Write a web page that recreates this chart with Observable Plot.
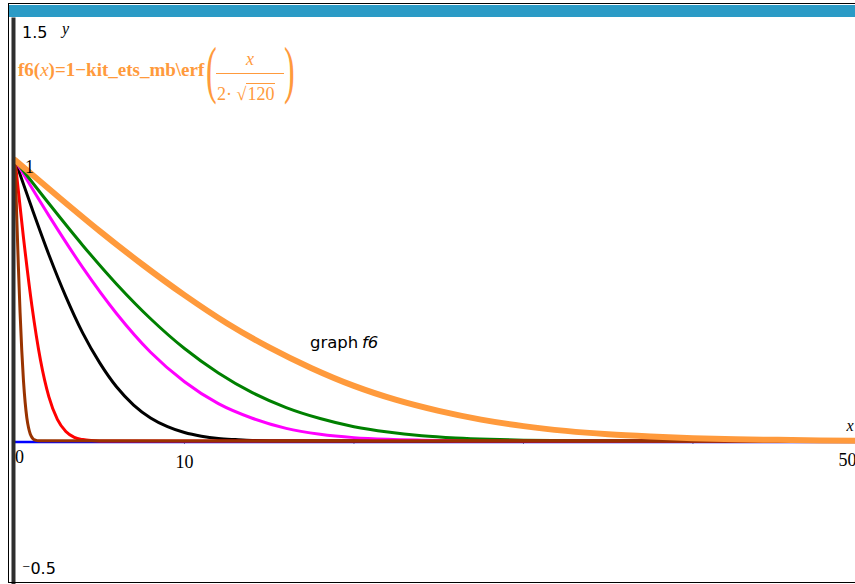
<!DOCTYPE html>
<html>
<head>
<meta charset="utf-8">
<script src="https://cdn.jsdelivr.net/npm/d3@7"></script>
<script src="https://cdn.jsdelivr.net/npm/@observablehq/plot@0.6"></script>
<style>
  html, body { margin: 0; padding: 0; background: #fff; }
  #wrap { position: relative; width: 855px; height: 584px; overflow: hidden; background: #fff; }
  #chart { position: absolute; left: 0; top: 0; }
  .frame-top { position: absolute; left: 8px; top: 3px; width: 847px; height: 1px; background: #000; }
  .frame-left { position: absolute; left: 8px; top: 3px; width: 1px; height: 580px; background: #000; }
  .frame-bottom { position: absolute; left: 8px; top: 582px; width: 847px; height: 1px; background: #000; }
  .bar { position: absolute; left: 9px; top: 5px; width: 846px; height: 12px; background: #2b9bc6; }
  #formula { position: absolute; left: 18px; top: 40px; color: #ff9a3c; font-family: "Liberation Serif", serif; white-space: nowrap; }
  #formula .main { position: absolute; left: 0; top: 19px; font-size: 19px; font-weight: bold; }
  #formula .main i { font-weight: normal; }
  #formula .paren { position: absolute; top: -2px; font-size: 64px; font-weight: normal; transform: scaleX(0.5); transform-origin: left top; line-height: 1; }
  #formula .num { position: absolute; left: 228px; top: 9px; font-size: 18px; font-style: italic; }
  #formula .fracline { position: absolute; left: 198px; top: 33px; width: 68px; height: 1px; background: #ff9a3c; }
  #formula .den { position: absolute; left: 199px; top: 44px; font-size: 18px; }
  #formula .den .rad { border-top: 1px solid #ff9a3c; padding: 0 1px; }
</style>
</head>
<body>
<div id="wrap">
  <div id="chart"></div>
  <div class="frame-top"></div>
  <div class="bar"></div>
  <div class="frame-left"></div>
  <div class="frame-bottom"></div>
  <div id="formula">
    <span class="main">f6(<i>x</i>)=1−kit_ets_mb\erf</span>
    <span class="paren" style="left:188px">(</span>
    <span class="num">x</span>
    <span class="fracline"></span>
    <span class="den">2· √<span class="rad">120</span></span>
    <span class="paren" style="left:266px">)</span>
  </div>
</div>
<script>
// ---- values ----
const xOrange = [0, 2.5, 5, 7.5, 10, 12.5, 15, 17.5, 20, 22.5, 25, 27.5, 30, 32.5, 35, 37.5, 40, 42.5, 45, 47.5, 50];
const yOrange = [1, 0.872, 0.747, 0.629, 0.519, 0.419, 0.333, 0.259, 0.196, 0.146, 0.107, 0.076, 0.053, 0.036, 0.024, 0.016, 0.010, 0.006, 0.004, 0.002, 0.001];

const xGreen = [0, 2, 4, 6, 8, 10, 12, 14, 16, 18, 20, 22, 24, 26, 28, 30, 34, 40, 50];
const yGreen = [1, 0.845, 0.696, 0.558, 0.435, 0.329, 0.242, 0.172, 0.119, 0.080, 0.051, 0.032, 0.019, 0.011, 0.006, 0.003, 0.001, 0, 0];

const xMagenta = [0, 2, 4, 6, 8, 10, 12, 14, 16, 18, 20, 22, 24, 28, 50];
const yMagenta = [1, 0.802, 0.617, 0.453, 0.316, 0.211, 0.133, 0.081, 0.045, 0.024, 0.012, 0.006, 0.003, 0.0005, 0];

const xBlack = [0, 1, 2, 3, 4, 5, 6, 7, 8, 9, 10, 11, 12, 13, 14, 16, 50];
const yBlack = [1, 0.828, 0.663, 0.514, 0.384, 0.278, 0.192, 0.128, 0.082, 0.051, 0.030, 0.017, 0.009, 0.005, 0.002, 0.0005, 0];

const xRed = [0, 0.5, 1, 1.5, 2, 2.5, 3, 3.5, 4, 4.5, 5, 50];
const yRed = [1, 0.724, 0.480, 0.289, 0.157, 0.077, 0.034, 0.013, 0.005, 0.0016, 0.0004, 0];

const xBrown = [0, 0.1, 0.2, 0.3, 0.4, 0.5, 0.6, 0.7, 0.8, 0.9, 1.0, 1.1, 1.2, 1.4, 50];
const yBrown = [1, 0.804, 0.621, 0.457, 0.322, 0.215, 0.137, 0.082, 0.047, 0.025, 0.013, 0.006, 0.003, 0.0005, 0];

const xBlue = [0, 50];
const yBlue = [0, 0];

const xTicks = [10, 20, 30, 40];
const xZeroLabel = {v: 0, t: "0"};
const xTenLabel = {v: 10, t: "10"};
const xEndLabel = {v: 50, t: "50"};
const yTopLabel = {v: 1.5, t: "1.5"};
const yOneLabel = {v: 1, t: "1"};
const yBottomLabel = {v: -0.5, t: "⁻0.5"};
const graphLabel = {x: 17.4, y: 0.35, a: "graph", b: "f6"};

// ---- build tables ----
const rows = (xs, ys) => xs.map((x, i) => ({x, y: ys[i]}));

const serif = "Liberation Serif, Times New Roman, serif";
const sans = "DejaVu Sans, sans-serif";

const chart = Plot.plot({
  width: 855,
  height: 584,
  margin: 0,
  x: {domain: [-0.855, 49.59], axis: null},
  y: {domain: [-0.5107, 1.5676], axis: null},
  style: {background: "transparent"},
  marks: [
    // tick marks on the x axis
    Plot.ruleX(xTicks, {x: d => d, y1: 0, y2: -0.011, stroke: "#222", strokeWidth: 1}),
    // blue line y = 0
    Plot.line(rows(xBlue, yBlue), {x: "x", y: "y", stroke: "#0000ff", strokeWidth: 2.5, dy: 1}),
    Plot.line(rows(xBlack, yBlack), {x: "x", y: "y", stroke: "#000000", strokeWidth: 3, curve: "monotone-x"}),
    Plot.line(rows(xMagenta, yMagenta), {x: "x", y: "y", stroke: "#ff00ff", strokeWidth: 3, curve: "monotone-x"}),
    Plot.line(rows(xGreen, yGreen), {x: "x", y: "y", stroke: "#008000", strokeWidth: 3, curve: "monotone-x"}),
    Plot.line(rows(xRed, yRed), {x: "x", y: "y", stroke: "#ff0000", strokeWidth: 3, curve: "monotone-x"}),
    Plot.line(rows(xBrown, yBrown), {x: "x", y: "y", stroke: "#993300", strokeWidth: 3, curve: "monotone-x"}),
    Plot.line(rows(xOrange, yOrange), {x: "x", y: "y", stroke: "#ff9a3c", strokeWidth: 6, curve: "monotone-x", strokeLinejoin: "round", strokeLinecap: "round"}),
    // y axis (thick dark line)
    Plot.ruleX([0], {y1: -0.5107, y2: 1.505, stroke: "#2e2e2e", strokeWidth: 4, dx: -1.5}),
    // x tick labels
    Plot.text([xZeroLabel], {x: "v", y: 0, text: "t", dy: 16, dx: 0, textAnchor: "start", fontFamily: serif, fontSize: 18, fill: "#000"}),
    Plot.text([xTenLabel], {x: "v", y: 0, text: "t", dy: 21, textAnchor: "middle", fontFamily: serif, fontSize: 18, fill: "#000"}),
    Plot.text([xEndLabel], {x: "v", y: 0, text: "t", dy: 19, dx: -6, textAnchor: "end", fontFamily: serif, fontSize: 18, fill: "#000"}),
    Plot.text([{v: 50, t: "x"}], {x: "v", y: 0, text: "t", dy: -15, dx: -16, textAnchor: "start", fontFamily: serif, fontStyle: "italic", fontSize: 16, fill: "#000"}),
    // y labels
    Plot.text([yTopLabel], {x: 0, y: "v", text: "t", dx: 7, dy: 13, textAnchor: "start", fontFamily: sans, fontSize: 16, fill: "#000"}),
    Plot.text([{v: 1.5, t: "y"}], {x: 0, y: "v", text: "t", dx: 47, dy: 9, textAnchor: "start", fontFamily: serif, fontStyle: "italic", fontSize: 16, fill: "#000"}),
    Plot.text([yOneLabel], {x: 0, y: "v", text: "t", dx: 10, dy: 7, textAnchor: "start", fontFamily: serif, fontSize: 18, fill: "#000"}),
    Plot.text([yBottomLabel], {x: 0, y: "v", text: "t", dx: 7, dy: -13, textAnchor: "start", fontFamily: sans, fontSize: 16, fill: "#000"}),
    // "graph f6" label
    Plot.text([graphLabel], {x: "x", y: "y", text: "a", textAnchor: "start", fontFamily: sans, fontSize: 16.5, fill: "#000"}),
    Plot.text([graphLabel], {x: "x", y: "y", text: "b", dx: 52, textAnchor: "start", fontFamily: sans, fontStyle: "italic", fontSize: 16.5, fill: "#000"})
  ]
});
document.getElementById("chart").appendChild(chart);
</script>
</body>
</html>
